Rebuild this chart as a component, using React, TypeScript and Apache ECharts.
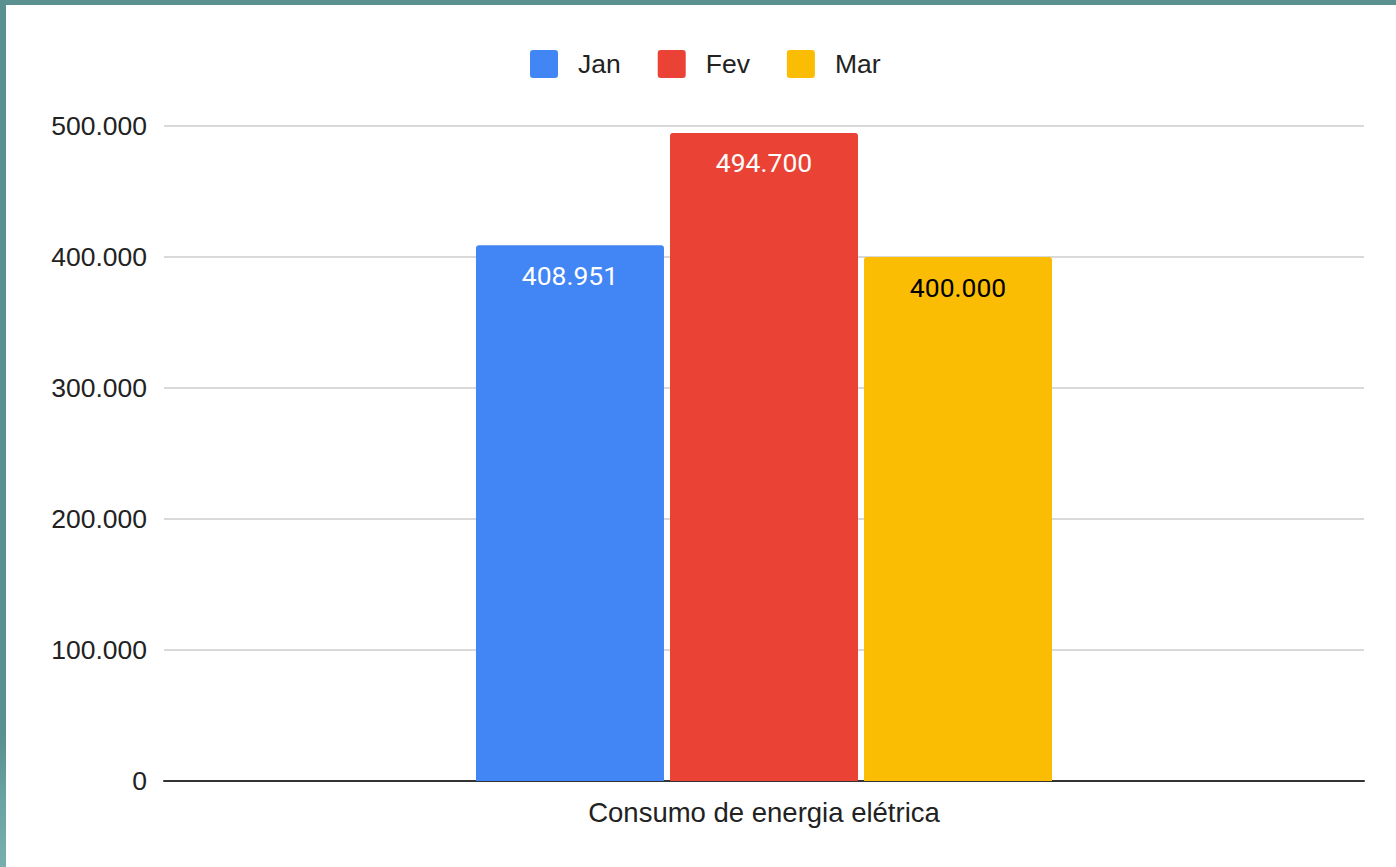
import React, { useEffect, useRef } from "react";
import * as echarts from "echarts";

const categories = ["Consumo de energia elétrica"];
const seriesNames = ["Jan", "Fev", "Mar"];
const janValues = [408951];
const fevValues = [494700];
const marValues = [400000];
const seriesColors = ["#4285f4", "#ea4335", "#fbbc04"];
const labelColors = ["#ffffff", "#ffffff", "#000000"];

const fmt = (v: number) => String(Math.round(v)).replace(/\B(?=(\d{3})+(?!\d))/g, ".");

export default function App() {
  const ref = useRef<HTMLDivElement>(null);
  useEffect(() => {
    document.body.style.margin = "0";
    if (!ref.current) return;
    const chart = echarts.init(ref.current, undefined, { renderer: "svg" });
    const allValues = [janValues, fevValues, marValues];
    chart.setOption({
      animation: false,
      backgroundColor: "#ffffff",
      legend: {
        top: 40,
        left: 519,
        itemWidth: 28,
        itemHeight: 28,
        itemGap: 37,
        icon: "path://M3,0 H25 A3,3 0 0 1 28,3 V25 A3,3 0 0 1 25,28 H3 A3,3 0 0 1 0,25 V3 A3,3 0 0 1 3,0 Z",
        textStyle: {
          fontFamily: "Liberation Sans, Arial, sans-serif",
          fontSize: 26.5,
          color: "#222",
          padding: [0, 0, 0, 15],
        },
        data: seriesNames,
      },
      grid: { left: 158, right: 32, top: 121, bottom: 86, containLabel: false },
      xAxis: {
        type: "category",
        data: categories,
        axisLine: { lineStyle: { color: "#333", width: 2 } },
        axisTick: { show: false },
        axisLabel: {
          fontFamily: "Liberation Sans, Arial, sans-serif",
          fontSize: 27.5,
          color: "#222",
          margin: 17,
        },
      },
      yAxis: {
        type: "value",
        min: 0,
        max: 500000,
        interval: 100000,
        axisLine: { show: false },
        axisTick: { show: false },
        splitLine: { lineStyle: { color: "#cccccc", width: 1.5 } },
        axisLabel: {
          fontFamily: "Liberation Sans, Arial, sans-serif",
          fontSize: 26.5,
          color: "#222",
          margin: 17,
          formatter: (v: number) => fmt(v),
        },
      },
      series: seriesNames.map((name, i) => ({
        name,
        type: "bar",
        data: allValues[i],
        barWidth: 188,
        barGap: "3.2%",
        itemStyle: { color: seriesColors[i], borderRadius: [3, 3, 0, 0] },
        label: {
          show: true,
          position: "insideTop",
          distance: 16.5,
          color: labelColors[i],
          fontFamily: "Roboto, sans-serif",
          fontSize: 26.5,
          formatter: (p: any) => fmt(p.value),
        },
      })),
    });
    return () => chart.dispose();
  }, []);
  return (
    <div
      style={{
        position: "relative",
        width: 1396,
        height: 867,
        background: "linear-gradient(to bottom, #5a9090 0px, #5a9090 740px, #6aa3a3 800px, #78aeae 867px)",
        overflow: "hidden",
      }}
    >
      <div
        ref={ref}
        style={{ position: "absolute", left: 6, top: 5, width: 1390, height: 862, background: "#fff" }}
      />
    </div>
  );
}
